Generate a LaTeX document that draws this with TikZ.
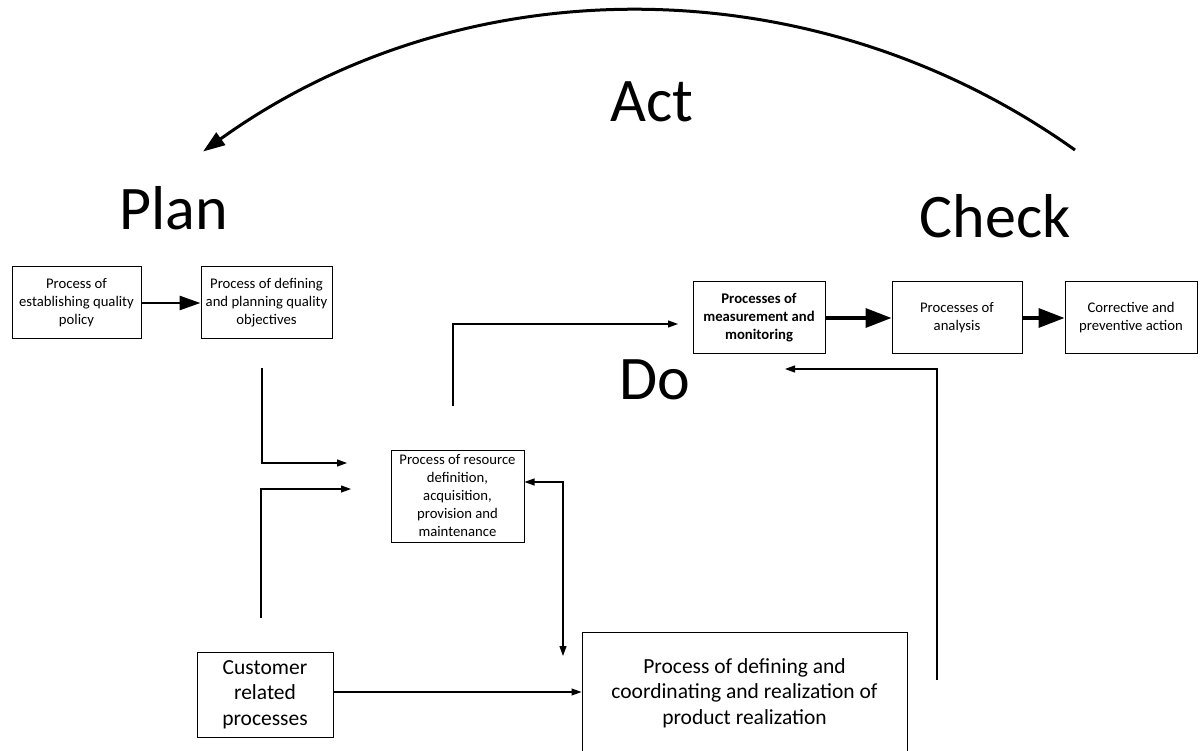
\documentclass[tikz,border=0pt]{standalone}
\usepackage{fontspec}
\setmainfont{Carlito}
\usetikzlibrary{arrows.meta}
\begin{document}
\begin{tikzpicture}[x=1pt,y=-1pt,
  box/.style={draw, line width=1pt, inner sep=1pt, align=center, font=\fontsize{14.7}{18}\selectfont},
  bigbox/.style={draw, line width=1pt, inner sep=1pt, align=center, font=\fontsize{21.5}{25.5}\selectfont},
  phase/.style={font=\fontsize{62}{74}\selectfont, anchor=base, inner sep=0pt},
  conn/.style={line width=1.1pt, -{Triangle[length=10pt,width=7pt]}},
  dconn/.style={line width=1.1pt, {Triangle[length=10pt,width=7pt]}-{Triangle[length=10pt,width=7pt]}},
  thickA/.style={line width=2.8pt, -{Triangle[length=21pt,width=14pt]}},
  thickB/.style={line width=3.5pt, -{Triangle[length=26pt,width=19pt]}},
]
\useasboundingbox (0,0) rectangle (1203,751);
\clip (0,0) rectangle (1203,751);

% phase labels
\node[phase] (plan) at (173.5,230) {Plan};
\node[phase] (act) at (652,122) {Act};
\node[phase] (check) at (995,238) {Check};
\node[phase] (do) at (655,400) {Do};

% boxes
\node[box, minimum width=129pt, minimum height=72pt] (policy) at (76.5,303) {Process of\\establishing quality\\policy};
\node[box, minimum width=131pt, minimum height=72pt] (obj) at (266.5,303) {Process of defining\\and planning quality\\objectives};
\node[box, minimum width=132pt, minimum height=72pt, font=\fontsize{14.7}{18}\selectfont\bfseries] (meas) at (759,318) {Processes of\\measurement and\\monitoring};
\node[box, minimum width=130pt, minimum height=72pt] (anal) at (957,318) {Processes of\\analysis};
\node[box, minimum width=132pt, minimum height=72pt] (corr) at (1131,318) {Corrective and\\preventive action};
\node[box, minimum width=133pt, minimum height=92pt] (res) at (457.5,496) {Process of resource\\definition,\\acquisition,\\provision and\\maintenance};
\node[bigbox, minimum width=136pt, minimum height=85pt] (cust) at (265,694.5) {Customer\\related\\processes};
\node[bigbox, minimum width=325pt, minimum height=122pt] (prod) at (744.5,693) {Process of defining and\\coordinating and realization of\\product realization};

% Act arc
\coordinate (actR) at (1075,150);
\draw[line width=3pt, -{Triangle[length=22pt,width=15pt]}] (actR) arc[start angle=54.5, end angle=125.7, radius=749pt];

% thick arrows
\draw[thickA] (policy.east) -- (obj.west);
\draw[thickB] (meas.east) -- (anal.west);
\draw[thickB] (anal.east) -- (corr.west);

% thin connectors with free ends
\coordinate (objdown) at (262,368);
\coordinate (resin1) at (347,463);
\draw[conn] (objdown) |- (resin1);

\coordinate (custup) at (261,618);
\coordinate (resin2) at (351,489);
\draw[conn] (custup) |- (resin2);

\coordinate (doup) at (453,406);
\coordinate (measin) at (678,324);
\draw[conn] (doup) |- (measin);

\coordinate (produp) at (937,680);
\coordinate (measin2) at (785,369);
\draw[conn] (produp) |- (measin2);

\coordinate (prodin) at (563,656);
\draw[dconn] ([yshift=14pt]res.east) -| (prodin);

\draw[conn] (cust.east |- 0,692) -- (prod.west |- 0,692);
\end{tikzpicture}
\end{document}
